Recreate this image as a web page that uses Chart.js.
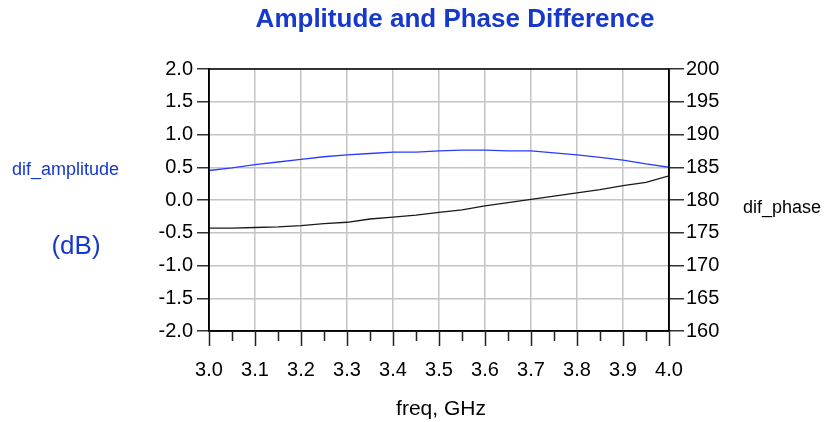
<!DOCTYPE html>
<html>
<head>
<meta charset="utf-8">
<script src="https://cdn.jsdelivr.net/npm/chart.js@4"></script>
<style>
  html, body { margin: 0; padding: 0; background: #fff; }
  canvas { display: block; }
</style>
</head>
<body>
<canvas id="chart1" width="827" height="422"></canvas>
<script>
const freq = [3.0, 3.05, 3.1, 3.15, 3.2, 3.25, 3.3, 3.35, 3.4, 3.45, 3.5,
              3.55, 3.6, 3.65, 3.7, 3.75, 3.8, 3.85, 3.9, 3.95, 4.0];
const difAmplitude = [0.45, 0.49, 0.54, 0.58, 0.62, 0.66, 0.69, 0.71, 0.73, 0.73, 0.75,
                      0.76, 0.76, 0.75, 0.75, 0.72, 0.69, 0.65, 0.61, 0.55, 0.50];
const difPhase = [175.7, 175.7, 175.8, 175.9, 176.1, 176.4, 176.6, 177.1, 177.4, 177.7, 178.1,
                  178.5, 179.1, 179.6, 180.1, 180.6, 181.1, 181.6, 182.2, 182.7, 183.7];
const minorTicks = [3.05, 3.15, 3.25, 3.35, 3.45, 3.55, 3.65, 3.75, 3.85, 3.95];

const titleBlue = '#1638cc';
const font = 'Liberation Sans, Arial, sans-serif';

// texts and the extra frame / minor ticks
const extras = {
    id: 'extras',
    afterDraw(chart) {
        const ctx = chart.ctx;
        const a = chart.chartArea;
        const x = chart.scales.x;
        ctx.save();
        ctx.strokeStyle = '#000';
        ctx.lineWidth = 1.5;
        ctx.strokeRect(a.left, a.top, a.right - a.left, a.bottom - a.top);

        ctx.strokeStyle = '#222';
        ctx.lineWidth = 1.5;
        ctx.beginPath();
        x.ticks.forEach(t => {
            const px = Math.round(x.getPixelForValue(t.value)) + 0.5;
            ctx.moveTo(px, a.bottom);
            ctx.lineTo(px, a.bottom + 15);
        });
        minorTicks.forEach(v => {
            const px = Math.round(x.getPixelForValue(v)) + 0.5;
            ctx.moveTo(px, a.bottom);
            ctx.lineTo(px, a.bottom + 10);
        });
        ctx.stroke();

        ctx.textBaseline = 'middle';
        ctx.textAlign = 'center';
        ctx.fillStyle = titleBlue;
        ctx.font = 'bold 26px ' + font;
        ctx.fillText('Amplitude and Phase Difference', 455, 20);

        ctx.textAlign = 'left';
        ctx.font = '18px ' + font;
        ctx.fillText('dif_amplitude', 12, 170);
        ctx.textAlign = 'center';
        ctx.font = '26px ' + font;
        ctx.fillText('(dB)', 76, 247);

        ctx.fillStyle = '#000';
        ctx.textAlign = 'left';
        ctx.font = '18px ' + font;
        ctx.fillText('dif_phase', 743, 208);
        ctx.textAlign = 'center';
        ctx.font = '21px ' + font;
        ctx.fillText('freq, GHz', 441, 409);
        ctx.restore();
    }
};

const config = {
    type: 'line',
    data: {
        datasets: [{
            label: 'dif_amplitude',
            borderColor: '#2a3cff',
            borderWidth: 1.3,
            radius: 0,
            tension: 0,
            yAxisID: 'y',
            data: freq.map((f, i) => ({x: f, y: difAmplitude[i]})),
        },
        {
            label: 'dif_phase',
            borderColor: '#1a1a1a',
            borderWidth: 1.3,
            radius: 0,
            tension: 0,
            yAxisID: 'y2',
            data: freq.map((f, i) => ({x: f, y: difPhase[i]})),
        }]
    },
    options: {
        responsive: false,
        animation: false,
        layout: { padding: { top: 69, left: 0, right: 0, bottom: 0 } },
        plugins: {
            legend: { display: false },
            title: { display: false },
            tooltip: { enabled: false }
        },
        scales: {
            x: {
                type: 'linear',
                min: 3, max: 4,
                afterFit: s => { s.height = 91; },
                ticks: {
                    stepSize: 0.1,
                    padding: 27,
                    color: '#000',
                    font: { family: font, size: 20 },
                    maxRotation: 0,
                    callback: v => v.toFixed(1)
                },
                grid: { color: '#c4c4c4', lineWidth: 1.5, drawTicks: false },
                border: { color: '#000', width: 1.5 }
            },
            y: {
                position: 'left',
                min: -2, max: 2,
                afterFit: s => { s.width = 209; },
                ticks: {
                    stepSize: 0.5,
                    padding: 4,
                    color: '#000',
                    font: { family: font, size: 20 },
                    callback: v => v.toFixed(1)
                },
                grid: { color: '#c4c4c4', lineWidth: 1.5, tickColor: '#333', tickLength: 12 },
                border: { color: '#000', width: 1.5 }
            },
            y2: {
                position: 'right',
                min: 160, max: 200,
                afterFit: s => { s.width = 158; },
                ticks: {
                    stepSize: 5,
                    padding: 2,
                    color: '#000',
                    font: { family: font, size: 20 }
                },
                grid: { drawOnChartArea: false, tickColor: '#333', tickLength: 15, lineWidth: 1.5 },
                border: { color: '#000', width: 1.5 }
            }
        }
    },
    plugins: [extras]
};

const ctx1 = document.getElementById('chart1').getContext('2d');
const chart1 = new Chart(ctx1, config);
</script>
</body>
</html>
